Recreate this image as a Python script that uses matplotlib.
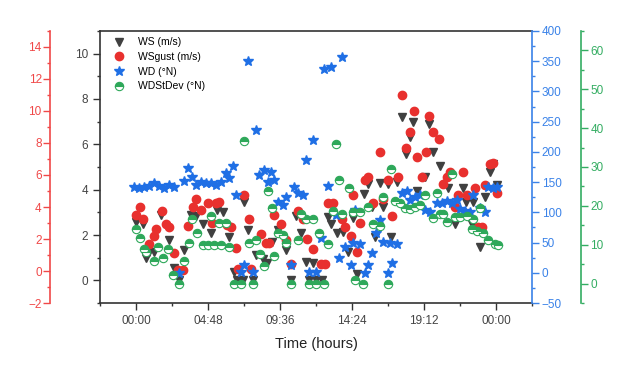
import matplotlib
matplotlib.use("Agg")
import matplotlib.pyplot as plt
from matplotlib.ticker import MultipleLocator, FixedLocator

plt.rcParams['font.family'] = ['Liberation Sans', 'DejaVu Sans']

# ---------------- Data (time in hours since 00:00) ---------------- #
ws_t = [0.00, 0.47, 0.66, 0.86, 1.20, 1.66, 2.19, 2.53, 2.86, 3.19, 3.66, 3.99, 4.45, 4.99,
        5.39, 5.78, 6.18, 6.52, 6.72, 7.11, 7.18, 7.45, 7.78, 7.98, 8.44, 8.71, 9.04, 9.44,
        9.97, 10.31, 10.64, 10.97, 11.30, 11.50, 11.77, 11.97, 12.43, 12.77, 13.03, 13.43,
        13.83, 14.16, 14.49, 14.76, 15.23, 15.49, 15.76, 15.96, 16.29, 16.49, 16.82, 17.02,
        17.42, 17.75, 18.02, 18.28, 18.48, 18.75, 19.28, 19.55, 19.81, 20.28, 20.81, 21.28,
        21.81, 22.01, 22.41, 22.47, 22.94, 23.27, 23.60, 23.80, 24.07]
ws = [2.59, 2.5, 1.0, 1.23, 1.27, 2.9, 1.8, 0.53, 0.0, 1.36, 2.9, 2.85, 2.5, 2.1,
      3.1, 3.03, 1.9, 0.39, 0.0, 0.0, 3.47, 2.24, 0.0, 1.1, 0.96, 0.75, 1.67, 2.24,
      1.36, 0.0, 2.85, 2.1, 0.79, 0.0, 0.75, 0.0, 0.0, 2.8, 2.5, 2.1,
      2.15, 1.27, 2.76, 0.3, 3.82, 4.25, 3.25, 1.93, 4.3, 3.25, 4.25, 1.89,
      4.34, 7.19, 5.57, 6.32, 6.97, 3.95, 4.56, 6.89, 5.66, 5.04, 4.08, 2.5,
      4.08, 3.47, 2.5, 3.47, 1.45, 3.68, 4.78, 5.13, 4.2]

gust_t = [0.00, 0.27, 0.47, 0.86, 1.20, 1.33, 1.73, 1.99, 2.19, 2.53, 2.79, 3.12, 3.46, 3.79,
          3.99, 4.32, 4.79, 5.05, 5.32, 5.52, 6.05, 6.32, 6.65, 6.78, 7.18, 7.51, 7.65, 8.31,
          8.64, 8.84, 9.18, 9.64, 9.97, 10.31, 10.77, 11.10, 11.37, 11.77, 12.30, 12.63,
          12.77, 13.16, 13.76, 13.96, 14.30, 14.49, 14.76, 14.96, 15.29, 15.49, 15.82, 16.29,
          16.49, 16.82, 17.09, 17.49, 17.75, 18.02, 18.28, 18.55, 18.75, 19.08, 19.35, 19.55,
          19.81, 20.21, 20.48, 20.74, 20.94, 21.28, 21.48, 21.81, 22.07, 22.61, 22.81, 23.07,
          23.27, 23.60, 23.80, 24.07]
gust = [3.47, 3.97, 3.22, 1.66, 2.16, 2.6, 3.72, 2.91, 2.72, 1.1, 0.05, 0.05, 2.79, 3.97,
        4.47, 3.84, 4.22, 2.97, 4.28, 4.34, 2.85, 2.72, 1.41, 0.1, 4.78, 3.28, 0.1, 2.29,
        1.73, 1.73, 3.47, 2.91, 1.91, 0.42, 3.72, 3.28, 1.98, 1.35, 0.42, 0.42,
        4.22, 4.28, 3.22, 2.72, 2.16, 4.72, 1.17, 2.97, 5.71, 5.9, 4.28, 7.46,
        4.47, 5.71, 3.41, 5.9, 11.01, 7.71, 8.7, 10.01, 7.15, 5.9, 7.46, 9.7,
        8.7, 8.27, 5.46, 5.9, 6.21, 4.03, 4.78, 6.21, 4.78, 5.21, 2.78, 2.78,
        5.4, 6.71, 6.77, 4.9]

wd_t = [-0.13, 0.20, 0.53, 0.86, 1.20, 1.53, 1.86, 2.19, 2.53, 2.86, 3.19, 3.46, 3.72, 3.99,
        4.32, 4.65, 4.99, 5.32, 5.65, 5.98, 6.18, 6.45, 6.65, 6.98, 7.18, 7.45, 7.78, 7.98,
        8.18, 8.51, 8.78, 8.98, 9.18, 9.44, 9.77, 9.97, 10.31, 10.51, 10.77, 11.10, 11.30,
        11.50, 11.77, 11.97, 12.30, 12.50, 12.77, 13.03, 13.30, 13.50, 13.76, 13.96, 14.30,
        14.49, 14.63, 14.96, 15.29, 15.49, 15.76, 16.02, 16.29, 16.49, 16.82, 16.95, 17.09,
        17.42, 17.75, 18.09, 18.28, 18.62, 18.95, 19.28, 19.61, 20.08, 20.41, 20.74, 21.08,
        21.41, 21.61, 21.94, 22.27, 22.47, 22.94, 23.27, 23.47, 23.80, 24.07]
wd = [142, 140, 142, 144, 148, 144, 140, 145, 142, 0, 152, 173, 158, 145,
      150, 148, 148, 145, 150, 165, 157, 177, 129, 1, 13, 350, 1, 236,
      162, 170, 150, 167, 153, 117, 112, 125, 13, 142, 132, 129, 187,
      1, 220, 1, 57, 337, 144, 340, 96, 24, 357, 43, 13,
      49, 104, 48, 0, 13, 33, 66, 87, 51, 0, 49, 16,
      48, 132, 135, 120, 125, 129, 104, 100, 115, 115, 119, 115,
      120, 105, 102, 100, 129, 107, 100, 142, 140, 142]

sd_t = [0.00, 0.27, 0.53, 0.66, 1.20, 1.46, 1.80, 2.13, 2.46, 2.86, 3.19, 3.52, 3.72, 4.06,
        4.45, 4.79, 4.99, 5.19, 5.52, 5.65, 5.98, 6.18, 6.52, 6.98, 7.18, 7.51, 7.78, 7.98,
        8.24, 8.51, 8.78, 9.04, 9.18, 9.44, 9.77, 9.97, 10.31, 10.77, 10.97, 11.30, 11.50,
        11.77, 11.97, 12.17, 12.50, 12.77, 13.10, 13.30, 13.50, 13.76, 14.23, 14.49, 14.63,
        14.96, 15.16, 15.49, 15.82, 16.29, 16.49, 16.82, 17.02, 17.29, 17.62, 17.95, 18.28,
        18.62, 18.95, 19.28, 19.81, 20.08, 20.28, 20.48, 20.74, 21.08, 21.28, 21.61, 22.07,
        22.41, 22.47, 22.74, 22.94, 23.14, 23.47, 23.94, 24.14]
sd = [14.1, 11.8, 9.0, 8.0, 5.9, 9.5, 6.7, 9.0, 2.1, 0.0, 5.9, 10.5, 16.7, 13.1,
      9.8, 9.8, 17.5, 9.8, 15.7, 9.8, 15.7, 9.5, 0.0, 0.0, 36.8, 10.5, 0.0, 11.1,
      7.7, 4.6, 23.9, 19.5, 7.2, 12.9, 12.6, 10.5, 0.0, 11.1, 18.0, 16.7, 0.0,
      16.7, 0.0, 12.9, 0.0, 10.3, 18.8, 36.0, 26.7, 18.0, 24.7, 18.3, 1.0,
      18.5, 0.0, 19.8, 15.4, 14.9, 22.4, 0.0, 29.6, 21.3, 20.8, 19.5, 19.3,
      19.8, 20.1, 22.9, 17.0, 23.4, 18.0, 18.0, 15.9, 28.3, 17.2, 17.2, 17.5,
      14.1, 16.5, 13.6, 19.5, 13.1, 11.1, 10.3, 10.0]

x_ticks = [0, 4.8, 9.6, 14.4, 19.2, 24.0]
x_labels = ["00:00", "04:48", "09:36", "14:24", "19:12", "00:00"]

# ---------------- Colours ---------------- #
C_WS = "#404040"
C_GUST = "#e8302e"
C_WD = "#1f6fe5"
C_SD = "#2ea85a"
C_RED_AX = "#f04848"
C_BLUE_AX = "#3a82e8"
C_GREEN_AX = "#34ad62"
C_AX = "#333333"

# ---------------- Figure ---------------- #
fig = plt.figure(figsize=(6.27, 3.68), dpi=100)
ax = fig.add_axes([0.1595, 0.1766, 0.689, 0.7392])
ax_red = ax.twinx()
ax_blue = ax.twinx()
ax_green = ax.twinx()

h1, = ax.plot(ws_t, ws, linestyle="none", marker="v", markersize=6,
              color=C_WS, label="WS (m/s)")
h2, = ax_red.plot(gust_t, gust, linestyle="none", marker="o", markersize=6,
                  color=C_GUST, label="WSgust (m/s)")
h3, = ax_blue.plot(wd_t, wd, linestyle="none", marker="*", markersize=7.5,
                   color=C_WD, label="WD (°N)")
h4, = ax_green.plot(sd_t, sd, linestyle="none", marker="o", markersize=6,
                    fillstyle="top", markerfacecolor=C_SD, markerfacecoloralt="white",
                    markeredgecolor=C_SD, markeredgewidth=0.8, label="WDStDev (°N)")

# main axis (WS)
ax.set_xlim(-2.4, 26.4)
ax.set_ylim(-1, 11)
ax.xaxis.set_major_locator(FixedLocator(x_ticks))
ax.set_xticklabels(x_labels)
ax.xaxis.set_minor_locator(MultipleLocator(2.4))
ax.yaxis.set_major_locator(MultipleLocator(2))
ax.yaxis.set_minor_locator(MultipleLocator(1))
ax.tick_params(axis="both", which="major", direction="out", length=5, width=1,
               color=C_AX, labelcolor="#444444", labelsize=8.5)
ax.tick_params(axis="both", which="minor", direction="out", length=2.5, width=1, color=C_AX)
ax.tick_params(axis="y", pad=3.5)
ax.set_xlabel("Time (hours)", fontsize=10.5, color="#222222", labelpad=7)
for s in ["left", "bottom", "top"]:
    ax.spines[s].set_color(C_AX)
    ax.spines[s].set_linewidth(1.2)
ax.spines["right"].set_visible(False)

# red axis (WSgust) on far left
ax_red.set_ylim(-2, 15)
ax_red.yaxis.set_ticks_position("left")
ax_red.yaxis.set_label_position("left")
ax_red.spines["left"].set_position(("outward", 36))
ax_red.spines["left"].set_color(C_RED_AX)
ax_red.spines["left"].set_linewidth(1.2)
for s in ["right", "top", "bottom"]:
    ax_red.spines[s].set_visible(False)
ax_red.yaxis.set_major_locator(FixedLocator(list(range(-2, 15, 2))))
ax_red.yaxis.set_minor_locator(MultipleLocator(1))
ax_red.tick_params(axis="y", which="major", direction="out", length=5, width=1,
                   color=C_RED_AX, labelcolor=C_RED_AX, labelsize=8.5, pad=1)
ax_red.tick_params(axis="y", which="minor", direction="out", length=2.5, width=1,
                   color=C_RED_AX)

# blue axis (WD) on right spine
ax_blue.set_ylim(-50, 400)
ax_blue.spines["right"].set_color(C_BLUE_AX)
ax_blue.spines["right"].set_linewidth(1.2)
for s in ["left", "top", "bottom"]:
    ax_blue.spines[s].set_visible(False)
ax_blue.yaxis.set_major_locator(MultipleLocator(50))
ax_blue.yaxis.set_minor_locator(MultipleLocator(25))
ax_blue.tick_params(axis="y", which="major", direction="out", length=5, width=1,
                    color=C_BLUE_AX, labelcolor=C_BLUE_AX, labelsize=8.5, pad=2)
ax_blue.tick_params(axis="y", which="minor", direction="out", length=2.5, width=1,
                    color=C_BLUE_AX)

# green axis (WDStDev) far right
ax_green.set_ylim(-5, 65)
ax_green.spines["right"].set_position(("outward", 35))
ax_green.spines["right"].set_color(C_GREEN_AX)
ax_green.spines["right"].set_linewidth(1.2)
for s in ["left", "top", "bottom"]:
    ax_green.spines[s].set_visible(False)
ax_green.yaxis.set_major_locator(FixedLocator(list(range(0, 61, 10))))
ax_green.yaxis.set_minor_locator(MultipleLocator(5))
ax_green.tick_params(axis="y", which="major", direction="out", length=5, width=1,
                     color=C_GREEN_AX, labelcolor=C_GREEN_AX, labelsize=8.5, pad=2)
ax_green.tick_params(axis="y", which="minor", direction="out", length=2.5, width=1,
                     color=C_GREEN_AX)

leg = ax_green.legend(handles=[h1, h2, h3, h4], loc="upper left",
                      bbox_to_anchor=(0.014, 1.0), frameon=False,
                      fontsize=7.5, handlelength=1.2, handletextpad=1.3,
                      labelspacing=0.45, borderaxespad=0.3, borderpad=0.3)

fig.savefig("out.png", dpi=100)
